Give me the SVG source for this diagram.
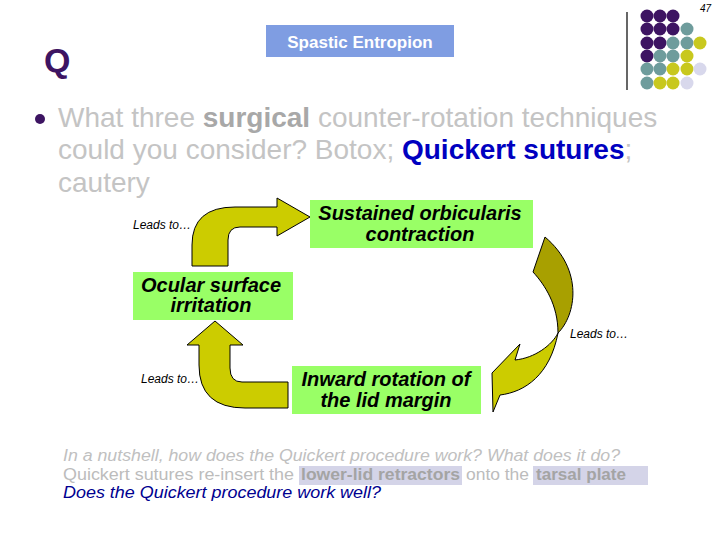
<svg xmlns="http://www.w3.org/2000/svg" width="720" height="540" viewBox="0 0 720 540">
<style>
text{font-family:"Liberation Sans",Arial,sans-serif}
.node rect{fill:#99ff66}
.node text{font-weight:bold;font-style:italic;font-size:20px;fill:#000;text-anchor:middle}
.lead{font-style:italic;font-size:12px;fill:#000}
.arrow{stroke:#000;stroke-width:1;stroke-linejoin:round}
.pu{fill:#3d1462}.te{fill:#6e9c9c}.ye{fill:#c8c81e}.la{fill:#d8d8ec}
.ft{font-size:16px}
</style>
<rect width="720" height="540" fill="#fff"/>
<g id="decor">
<line x1="627" y1="12" x2="627" y2="90" stroke="#000" stroke-width="1.2"/>
<g>
<circle class="pu" cx="647" cy="16" r="6.5"/><circle class="pu" cx="660" cy="16" r="6.5"/><circle class="pu" cx="673" cy="16" r="6.5"/>
<circle class="pu" cx="647" cy="29" r="6.5"/><circle class="pu" cx="660" cy="29" r="6.5"/><circle class="pu" cx="673" cy="29" r="6.5"/><circle class="te" cx="687" cy="29" r="6.5"/>
<circle class="pu" cx="647" cy="43" r="6.5"/><circle class="pu" cx="660" cy="43" r="6.5"/><circle class="te" cx="673" cy="43" r="6.5"/><circle class="te" cx="687" cy="43" r="6.5"/><circle class="ye" cx="700" cy="43" r="6.5"/>
<circle class="pu" cx="647" cy="56" r="6.5"/><circle class="te" cx="660" cy="56" r="6.5"/><circle class="te" cx="673" cy="56" r="6.5"/><circle class="ye" cx="687" cy="56" r="6.5"/>
<circle class="te" cx="647" cy="69" r="6.5"/><circle class="te" cx="660" cy="69" r="6.5"/><circle class="ye" cx="673" cy="69" r="6.5"/><circle class="ye" cx="687" cy="69" r="6.5"/><circle class="la" cx="700" cy="69" r="6.5"/>
<circle class="te" cx="647" cy="83" r="6.5"/><circle class="ye" cx="660" cy="83" r="6.5"/><circle class="ye" cx="673" cy="83" r="6.5"/><circle class="la" cx="687" cy="83" r="6.5"/>
</g>
<text x="700" y="12" font-size="10" font-style="italic" fill="#000">47</text>
<text x="44" y="72" font-size="34" font-weight="bold" fill="#3d1462">Q</text>
<rect x="266" y="25" width="188" height="32" fill="#7f9de2"/>
<text x="360" y="48" font-size="17" font-weight="bold" fill="#fff" text-anchor="middle">Spastic Entropion</text>
<circle cx="40" cy="119" r="5" fill="#3d1462"/>
<text x="58" y="127" font-size="28" fill="#c4c4c4">What three <tspan font-weight="bold" fill="#a8a8a8">surgical</tspan> counter-rotation techniques</text>
<text x="58" y="159" font-size="28" fill="#c4c4c4">could you consider? Botox; <tspan font-weight="bold" fill="#0000c0">Quickert sutures</tspan>;</text>
<text x="58" y="192" font-size="28" fill="#c4c4c4">cautery</text>
</g>
<g id="connectors">
<path class="arrow" fill="#cccc00" d="M192,266 L192,245 Q192,207 235,207 L277,207 L277,198 L310,217 L277,236 L277,227 L240,227 Q228,227 228,240 L228,266 Z"/>
<path class="arrow" fill="#a8a000" d="M545,237 L533,272 C545,285 558,305 558,333 C576,315 584,270 545,237 Z"/>
<path class="arrow" fill="#cccc00" d="M558,333 C552,345 535,358 515,360 L520,344 L492,373 L493,412 L500,395 C525,392 550,375 558,333 Z"/>
<path class="arrow" fill="#cccc00" d="M288,382 L242,382 Q230,382 230,368 L230,345 L243,345 L215,321 L187,345 L199,345 L199,365 Q199,408 245,408 L288,408 Z"/>
<text class="lead" x="133" y="229">Leads to…</text>
<text class="lead" x="570" y="338">Leads to…</text>
<text class="lead" x="141" y="383">Leads to…</text>
</g>
<g id="node-sustained" class="node">
<rect x="310" y="200" width="223" height="48"/>
<text x="420" y="220">Sustained orbicularis</text>
<text x="420" y="241">contraction</text>
</g>
<g id="node-ocular" class="node">
<rect x="133" y="272" width="160" height="48"/>
<text x="211" y="292">Ocular surface</text>
<text x="211" y="312">irritation</text>
</g>
<g id="node-inward" class="node">
<rect x="292" y="366" width="189" height="48"/>
<text x="386" y="386">Inward rotation of</text>
<text x="386" y="407">the lid margin</text>
</g>
<g id="footer">
<rect x="299" y="466" width="163" height="19" fill="#d4d4e8"/>
<rect x="533" y="466" width="115" height="19" fill="#d4d4e8"/>
<text class="ft" x="63" y="461" font-style="italic" fill="#c0c0c0" textLength="557" lengthAdjust="spacingAndGlyphs">In a nutshell, how does the Quickert procedure work? What does it do?</text>
<text class="ft" x="63" y="480" fill="#bcbcbc" textLength="231" lengthAdjust="spacingAndGlyphs">Quickert sutures re-insert the</text>
<text class="ft" x="301" y="480" font-weight="bold" fill="#a4a4a4" textLength="159" lengthAdjust="spacingAndGlyphs">lower-lid retractors</text>
<text class="ft" x="466" y="480" fill="#bcbcbc" textLength="63" lengthAdjust="spacingAndGlyphs">onto the</text>
<text class="ft" x="536" y="480" font-weight="bold" fill="#a4a4a4" textLength="90" lengthAdjust="spacingAndGlyphs">tarsal plate</text>
<text class="ft" x="63" y="498" font-style="italic" fill="#000090" textLength="318" lengthAdjust="spacingAndGlyphs">Does the Quickert procedure work well?</text>
</g>
</svg>
